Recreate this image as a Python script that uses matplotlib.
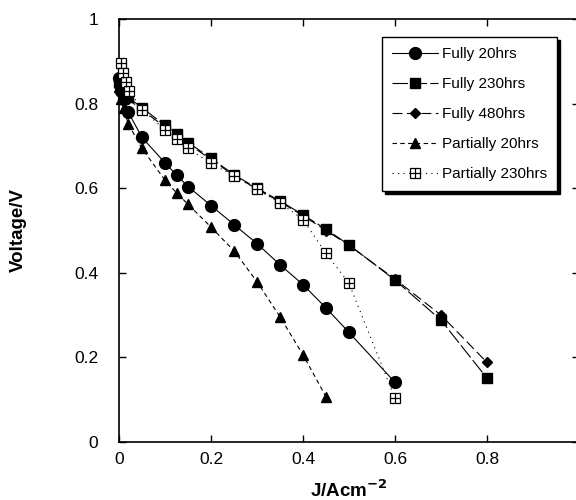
import matplotlib
matplotlib.use("Agg")
import matplotlib.pyplot as plt
from matplotlib.legend_handler import HandlerTuple

plt.rcParams['font.family'] = ['Liberation Sans', 'DejaVu Sans']

# ---- data ----
f20_x = [0, 0.005, 0.01, 0.02, 0.05, 0.1, 0.125, 0.15, 0.2, 0.25, 0.3, 0.35, 0.4, 0.45, 0.5, 0.6]
f20_y = [0.86, 0.83, 0.81, 0.78, 0.72, 0.66, 0.631, 0.604, 0.559, 0.514, 0.469, 0.419, 0.372, 0.317, 0.259, 0.141]

f230_x = [0, 0.005, 0.01, 0.02, 0.05, 0.1, 0.125, 0.15, 0.2, 0.25, 0.3, 0.35, 0.4, 0.45, 0.5, 0.6, 0.7, 0.8]
f230_y = [0.85, 0.84, 0.83, 0.815, 0.79, 0.749, 0.728, 0.708, 0.671, 0.632, 0.6, 0.57, 0.537, 0.503, 0.466, 0.383, 0.288, 0.151]

f480_x = [0, 0.005, 0.01, 0.02, 0.05, 0.1, 0.125, 0.15, 0.2, 0.25, 0.3, 0.35, 0.4, 0.45, 0.5, 0.6, 0.7, 0.8]
f480_y = [0.84, 0.83, 0.82, 0.81, 0.785, 0.745, 0.725, 0.705, 0.668, 0.63, 0.598, 0.568, 0.535, 0.5, 0.465, 0.385, 0.3, 0.188]

p20_x = [0, 0.005, 0.01, 0.02, 0.05, 0.1, 0.125, 0.15, 0.2, 0.25, 0.3, 0.35, 0.4, 0.45]
p20_y = [0.84, 0.81, 0.79, 0.752, 0.694, 0.619, 0.589, 0.562, 0.508, 0.452, 0.379, 0.296, 0.206, 0.107]

p230_x = [0.004, 0.009, 0.015, 0.022, 0.05, 0.1, 0.125, 0.15, 0.2, 0.25, 0.3, 0.35, 0.4, 0.45, 0.5, 0.6]
p230_y = [0.895, 0.872, 0.85, 0.83, 0.786, 0.738, 0.716, 0.694, 0.659, 0.629, 0.597, 0.566, 0.526, 0.446, 0.375, 0.103]

labels = ['Fully 20hrs', 'Fully 230hrs', 'Fully 480hrs', 'Partially 20hrs', 'Partially 230hrs']
xticks = [0, 0.2, 0.4, 0.6, 0.8, 1]
yticks = [0, 0.2, 0.4, 0.6, 0.8, 1]

# ---- figure ----
fig = plt.figure(figsize=(5.76, 5.0), dpi=100)
ax = fig.add_axes([119/576, 1 - 442/500, 460/576, 423/500])

lw = 0.8
h20, = ax.plot(f20_x, f20_y, color='k', lw=lw, ls='-', marker='o', ms=8.5,
               mfc='k', mec='k', clip_on=False, zorder=3)
h480, = ax.plot(f480_x, f480_y, color='k', lw=lw, ls=(0, (9, 4)), marker='D', ms=5.5,
                mfc='k', mec='k', clip_on=False, zorder=3)
h230, = ax.plot(f230_x, f230_y, color='k', lw=lw, ls=(0, (14, 3)), marker='s', ms=7,
                mfc='k', mec='k', clip_on=False, zorder=3)
hp20, = ax.plot(p20_x, p20_y, color='k', lw=lw, ls=(0, (4, 3)), marker='^', ms=7.5,
                mfc='k', mec='k', clip_on=False, zorder=3)
hp230, = ax.plot(p230_x, p230_y, color='k', lw=lw, ls=(0, (1, 4)), marker='s', ms=7,
                 mfc='white', mec='k', mew=0.9, clip_on=False, zorder=4)
hp230b, = ax.plot(p230_x, p230_y, ls='none', marker='+', ms=7, mec='k', mew=0.9,
                  clip_on=False, zorder=5)

ax.set_xlim(0, 1)
ax.set_ylim(0, 1)
ax.set_xticks(xticks)
ax.set_yticks(yticks)
ax.set_xticklabels([f'{v:g}' for v in xticks])
ax.set_yticklabels([f'{v:g}' for v in yticks])
ax.tick_params(direction='in', length=5, width=1, top=True, right=True,
               labelsize=12.5, colors='k')
ax.tick_params(axis='y', pad=15)
ax.tick_params(axis='x', pad=7)
for s in ax.spines.values():
    s.set_linewidth(1.2)

ax.set_xlabel('J/Acm$^{\\mathbf{-2}}$', fontsize=13.5, fontweight='bold', labelpad=9)
ax.set_ylabel('Voltage/V', fontsize=13.5, fontweight='bold', labelpad=34)

leg = ax.legend([h20, h230, h480, hp20, (hp230, hp230b)], labels,
                handler_map={tuple: HandlerTuple(ndivide=1)},
                loc='upper left', bbox_to_anchor=(382/576, 1 - 37/500),
                bbox_transform=fig.transFigure, borderaxespad=0,
                fontsize=11, numpoints=1, handlelength=3.0, handletextpad=0.3,
                labelspacing=1.05, borderpad=0.65, fancybox=False,
                shadow={'facecolor': 'black', 'edgecolor': 'black', 'alpha': 1},
                framealpha=1, edgecolor='black')
leg.get_frame().set_linewidth(1.0)

fig.savefig('out.png', dpi=100)
